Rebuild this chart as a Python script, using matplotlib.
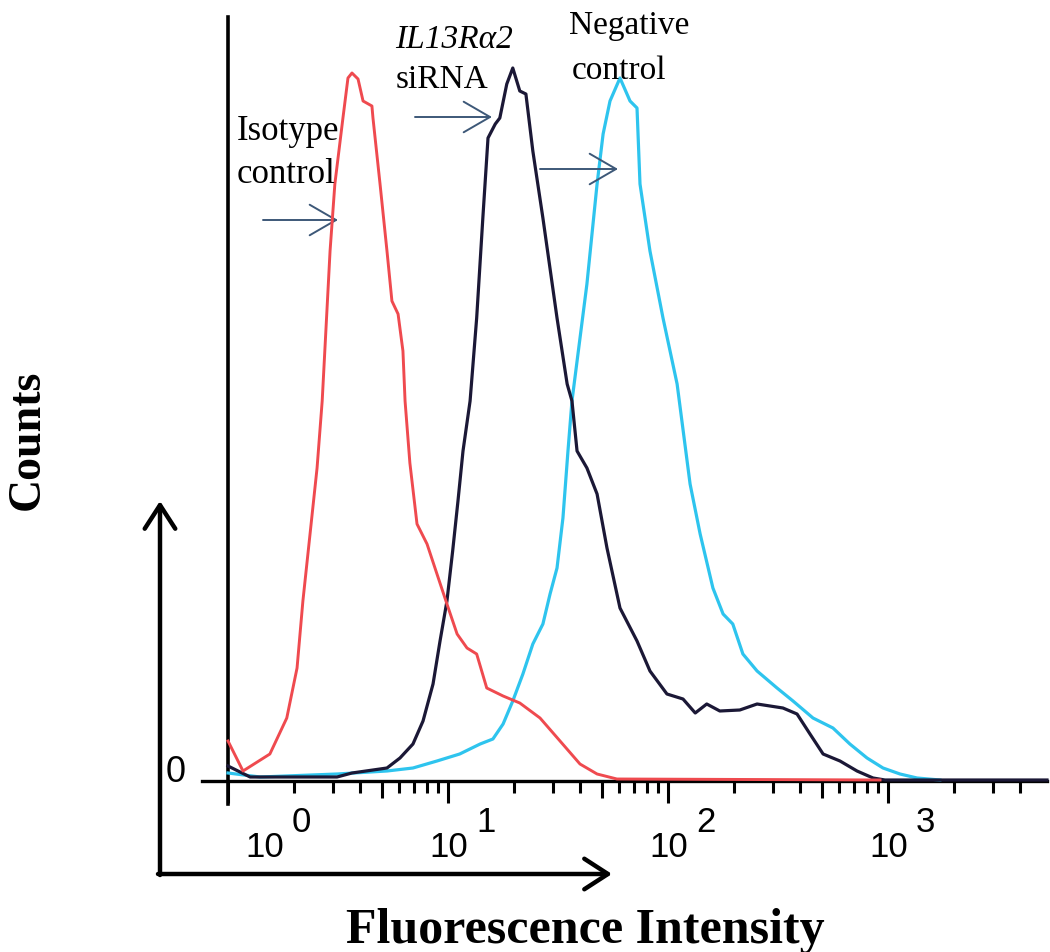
import matplotlib
matplotlib.use("Agg")
import matplotlib.pyplot as plt
import numpy as np
from matplotlib.lines import Line2D
from matplotlib.ticker import LogLocator, NullFormatter, FixedLocator

# ---------------- data (fluorescence intensity, counts) ----------------
isotype_x = [1.0, 1.17, 1.55, 1.85, 2.06, 2.19, 2.36, 2.54, 2.68, 2.91, 3.06, 3.33,
             3.51, 3.66, 3.90, 4.11, 4.51, 4.56, 4.91, 5.28, 5.56, 5.93, 6.24, 6.38,
             6.71, 7.23, 8.03, 8.91, 9.89, 11.0, 12.2, 13.5, 15.0, 17.8, 21.2, 26.2,
             32.3, 39.8, 47.6, 58.6, 920.0]
isotype_y = [40, 10, 27, 63, 113, 180, 247, 313, 380, 530, 597, 663,
             703, 708, 702, 680, 675, 663, 597, 530, 480, 467, 430, 380,
             318, 257, 237, 207, 177, 147, 133, 127, 93, 85, 78, 63,
             40, 17, 7, 2, 1]

sirna_x = [1.0, 1.26, 3.13, 3.66, 5.28, 6.05, 6.93, 7.70, 8.55, 9.20, 9.89, 10.5,
           11.1, 11.7, 12.6, 13.5, 14.4, 15.2, 16.4, 17.2, 18.5, 19.7, 21.2, 22.6,
           24.3, 27.0, 31.3, 34.8, 36.6, 38.6, 42.8, 47.6, 52.8, 60.5, 72.3, 82.8,
           98.9, 117, 133, 150, 172, 212, 254, 333, 386, 442, 507, 605, 723, 855,
           969, 5280]
sirna_y = [15, 4, 4, 8, 13, 23, 37, 60, 97, 140, 180, 230,
           280, 330, 380, 463, 563, 643, 657, 663, 697, 713, 690, 687,
           630, 563, 463, 397, 380, 330, 313, 287, 233, 173, 140, 110,
           87, 82, 68, 77, 70, 71, 77, 73, 67, 47, 27, 20, 10, 3,
           1, 1]

negative_x = [1.0, 1.4, 3.13, 5.28, 6.93, 8.91, 11.3, 14.0, 16.0, 17.8, 19.7, 21.9,
              24.3, 27.0, 29.1, 31.3, 33.3, 35.1, 36.6, 42.8, 47.6, 50.7, 54.5, 60.5,
              67.2, 72.3, 74.6, 82.8, 94.9, 110, 126, 140, 160, 178, 197, 219, 254,
              313, 370, 456, 562, 671, 803, 949, 1134, 1355, 1722]
negative_y = [8, 4, 7, 10, 13, 20, 27, 37, 42, 57, 80, 107,
              137, 157, 187, 213, 263, 330, 380, 497, 597, 647, 680, 703,
              680, 673, 597, 530, 463, 397, 297, 247, 193, 167, 157, 127, 110,
              93, 80, 63, 53, 37, 23, 13, 7, 3, 1]

tick_exponents = ["0", "1", "2", "3"]
tick_values = [1, 10, 100, 1000]
mid_tick_values = [5, 50, 500]

# ---------------- figure ----------------
W, H = 1050, 953
fig = plt.figure(figsize=(W / 100, H / 100), dpi=100)
fig.patch.set_facecolor("white")

DEC = 220  # pixels per decade
ax_left, ax_right, ax_bottom, ax_top = 228, 1047, 782, 18
ax = fig.add_axes([ax_left / W, (H - ax_bottom) / H,
                   (ax_right - ax_left) / W, (ax_bottom - ax_top) / H])
ax.set_xscale("log")
ax.set_xlim(1, 10 ** ((ax_right - ax_left) / DEC))
ax.set_ylim(0, ax_bottom - ax_top)
for s in ax.spines.values():
    s.set_visible(False)
ax.set_yticks([])
ax.xaxis.set_major_locator(LogLocator(base=10, numticks=10))
ax.xaxis.set_minor_locator(LogLocator(base=10, subs=[2, 3, 4, 6, 7, 8, 9], numticks=100))
ax.xaxis.set_minor_formatter(NullFormatter())
ax.tick_params(axis="x", which="major", direction="out", length=16, width=2.2,
               labelbottom=False)
ax.tick_params(axis="x", which="minor", direction="out", length=8.5, width=2.2)

# medium ticks at the 5s
sec = ax.secondary_xaxis("bottom")
for s in sec.spines.values():
    s.set_visible(False)
sec.xaxis.set_major_locator(FixedLocator(mid_tick_values))
sec.xaxis.set_minor_locator(FixedLocator([]))
sec.tick_params(axis="x", which="major", direction="out", length=12, width=2.2,
                labelbottom=False)

axw = ax_right - ax_left
axh = ax_bottom - ax_top
# axis lines
ax.add_line(Line2D([-26 / axw, 1], [0, 0], transform=ax.transAxes, color="black",
                   lw=2.4, clip_on=False, zorder=1))
ax.add_line(Line2D([0, 0], [-23 / axh, 1], transform=ax.transAxes, color="black",
                   lw=2.6, clip_on=False, zorder=1))

# curves
ax.plot(negative_x, negative_y, color="#2ec4ee", lw=2.3, clip_on=False, zorder=3)
ax.plot(sirna_x, sirna_y, color="#1b1836", lw=2.3, clip_on=False, zorder=4)
ax.plot(isotype_x, isotype_y, color="#ef4a4f", lw=2.1, clip_on=False, zorder=5)


def fx(x):
    return x / W


def fy(y):
    return (H - y) / H


# tick labels (10 with raised exponent)
for v, e in zip(tick_values, tick_exponents):
    px = ax_left + DEC * np.log10(v)
    off = 17 if v == 1 else -19
    fig.text(fx(px + off), fy(857), "10", fontsize=25, family="Liberation Sans",
             ha="left", va="baseline")
    fig.text(fx(px + off + 47), fy(832), e, fontsize=25, family="Liberation Sans",
             ha="left", va="baseline")

fig.text(fx(166), fy(782), "0", fontsize=26, family="Liberation Sans",
         ha="left", va="baseline")

# axis titles
fig.text(fx(585), fy(943), "Fluorescence Intensity", fontsize=36,
         family="Liberation Serif", weight="bold", ha="center", va="baseline")
fig.text(fx(28), fy(440), "Counts", fontsize=33, family="Liberation Serif",
         weight="bold", ha="center", va="center", rotation=90)

# big L-shaped axis arrows
ax.annotate("", xy=(160, H - 502), xytext=(160, H - 876), xycoords="figure pixels",
            textcoords="figure pixels",
            arrowprops=dict(arrowstyle="->,head_length=1.7,head_width=1.1", lw=3.2,
                            color="black", mutation_scale=10, shrinkA=0, shrinkB=0))
ax.annotate("", xy=(612, H - 875), xytext=(158, H - 875), xycoords="figure pixels",
            textcoords="figure pixels",
            arrowprops=dict(arrowstyle="->,head_length=1.7,head_width=1.1", lw=3.2,
                            color="black", mutation_scale=10, shrinkA=0, shrinkB=0))

# label annotations
serif = "Liberation Serif"
fig.text(fx(237), fy(140), "Isotype", fontsize=25, family=serif, ha="left", va="baseline")
fig.text(fx(237), fy(183), "control", fontsize=25, family=serif, ha="left", va="baseline")
fig.text(fx(395), fy(48), "IL13R\u03b12", fontsize=24, family=serif, style="italic",
         ha="left", va="baseline")
fig.text(fx(396), fy(88), "siRNA", fontsize=24, family=serif, ha="left", va="baseline")
fig.text(fx(569), fy(34), "Negative", fontsize=24, family=serif, ha="left", va="baseline")
fig.text(fx(572), fy(79), "control", fontsize=24, family=serif, ha="left", va="baseline")

arrow_col = "#3d5878"
for (x0, x1, y) in [(263, 338, 221), (415, 492, 118), (540, 618, 170)]:
    ax.annotate("", xy=(x1, H - y), xytext=(x0, H - y), xycoords="figure pixels",
                textcoords="figure pixels",
                arrowprops=dict(arrowstyle="->,head_length=1.9,head_width=1.1", lw=1.4,
                                color=arrow_col, mutation_scale=10, shrinkA=0, shrinkB=0))

fig.savefig("out.png", dpi=100, facecolor="white")
